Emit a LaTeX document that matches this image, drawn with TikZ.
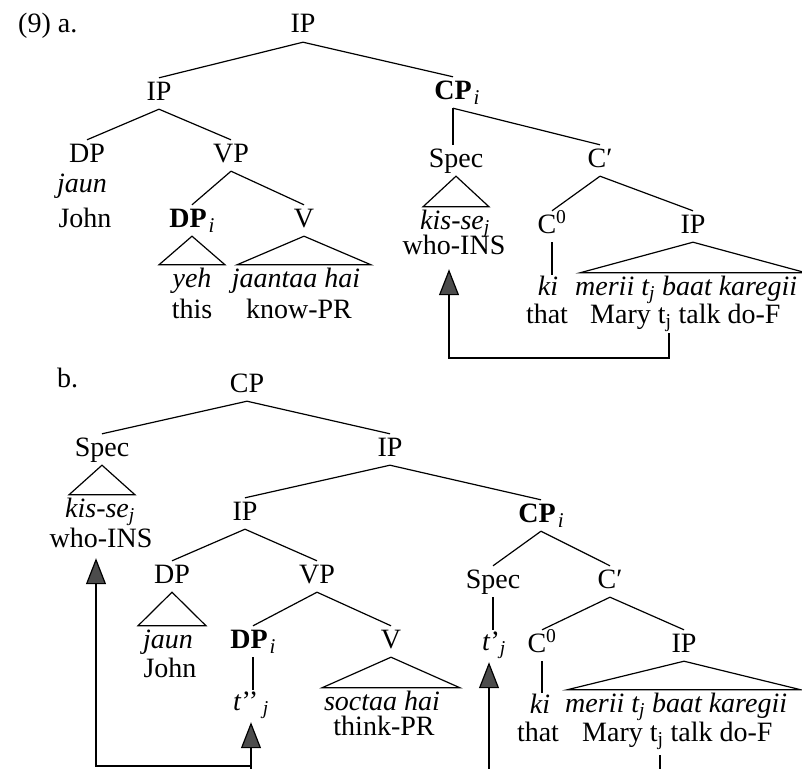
\documentclass[tikz,border=0pt]{standalone}
\usepackage{fontspec}
\setmainfont{Liberation Serif}
\usetikzlibrary{calc,arrows.meta}

% italic index i, set a little smaller and lowered
\newcommand\idxi{\hspace{2pt}\raisebox{-5pt}{\fontsize{21}{21}\selectfont\textit{i}}}
% triangle from a category down over its phrase
\newcommand\subtri[3]{\draw[branch] (#1.south) -- ($(#1.south |- #2.north)+(-#3,-2)$) -- ($(#1.south |- #2.north)+(#3,-2)$) -- cycle;}

\tikzset{
  lbl/.style={inner sep=0pt, anchor=base, text height=22pt, text depth=9pt,
              font=\fontsize{28}{34}\selectfont},
  word/.style={inner sep=0pt, anchor=base, text height=20pt, text depth=2pt,
              font=\fontsize{28}{34}\selectfont},
  wordw/.style={word, anchor=base west},
  branch/.style={line width=1.2pt, line join=miter},
  mv/.style={line width=1.2pt, -{Triangle[width=20pt,length=26pt,fill=black!70]}},
}

\begin{document}
\begin{tikzpicture}[x=1pt,y=-1pt]
\useasboundingbox (0,0) rectangle (802,768);
\fill[white] (0,0) rectangle (802,768);
\clip (0,0) rectangle (802,768);

% ---------------- (9) a. ----------------
\node[wordw] (laba) at (18,33) {(9) a.};
\node[lbl] (IPa)   at (303,33)  {IP};
\node[lbl] (IPa1)  at (159,100) {IP};
\node[lbl] (CPa)   at (453,99)  {\textbf{CP}\rlap{\idxi}};
\node[lbl] (DPa)   at (87,162)  {DP};
\node[lbl] (VPa)   at (231,162) {VP};
\node[word] (jauna) at (82,192)  {\textit{jaun}};
\node[word] (Johna) at (85,227)  {John};
\node[lbl] (DPia)  at (192,227) {\textbf{DP}\idxi};
\node[lbl] (Va)    at (304,227) {V};
\node[word] (yeha)  at (192,287) {\textit{yeh}};
\node[word] (jaana) at (296,287) {\textit{jaantaa hai}};
\node[word] (thisa) at (192,318) {this};
\node[word] (knowa) at (299,318) {know-PR};
\node[lbl] (Speca) at (456,167) {Spec};
\node[lbl] (Cbara) at (600,167) {C′};
\node[word] (kisa)  at (455,229) {\textit{kis-se}\textsubscript{\textit{j}}};
\node[word] (whoa)  at (454,254) {who-INS};
\node[lbl] (C0a)   at (552,233) {C\textsuperscript{0}};
\node[lbl] (IPa2)  at (693,233) {IP};
\node[word] (kia)   at (548,295) {\textit{ki}};
\node[wordw] (meria) at (575,295) {\textit{merii t\textsubscript{j} baat karegii}};
\node[word] (thata) at (547,323) {that};
\node[wordw] (marya) at (590,323) {Mary t\textsubscript{j} talk do-F};

\draw[branch] (IPa.south) -- (IPa1.north);
\draw[branch] (IPa.south) -- (CPa.north);
\draw[branch] (IPa1.south) -- (DPa.north);
\draw[branch] (IPa1.south) -- (VPa.north);
\draw[branch] (VPa.south) -- (DPia.north);
\draw[branch] (VPa.south) -- (Va.north);
\draw[branch] (CPa.south) -- (CPa.south |- Speca.north);
\draw[branch] (CPa.south) -- (Cbara.north);
\draw[branch] (Cbara.south) -- (C0a.north);
\draw[branch] (Cbara.south) -- (IPa2.north);
\draw[branch] (C0a.south) -- (C0a.south |- kia.north);
\subtri{DPia}{yeha}{33}
\subtri{Va}{jaana}{67}
\subtri{Speca}{kisa}{33}
\subtri{IPa2}{meria}{113}

% movement of kis-se from inside the embedded clause
\coordinate (tja) at (669,333);
\draw[mv] (tja) -- ++(0,25) -| ($(whoa.south)+(-5,13)$);

% ---------------- b. ----------------
\node[wordw] (labb) at (57,387) {b.};
\node[lbl] (CPb)    at (247,392) {CP};
\node[lbl] (Specb)  at (102,456) {Spec};
\node[lbl] (IPb)    at (390,456) {IP};
\node[word] (kisb)   at (100,517) {\textit{kis-se}\textsubscript{\textit{j}}};
\node[word] (whob)   at (101,547) {who-INS};
\node[lbl] (IPb2)   at (245,520) {IP};
\node[lbl] (CPib)   at (541,522) {\textbf{CP}\idxi};
\node[lbl] (DPb)    at (172,583) {DP};
\node[lbl] (VPb)    at (317,583) {VP};
\node[word] (jaunb)  at (168,648) {\textit{jaun}};
\node[word] (Johnb)  at (170,677) {John};
\node[lbl] (DPib)   at (253,648) {\textbf{DP}\idxi};
\node[lbl] (Vb)     at (391,648) {V};
\node[wordw] (tpp)   at (233,710) {\textit{t}’’\,\textsubscript{\textit{j}}};
\node[word] (socb)   at (382,710) {\textit{soctaa hai}};
\node[word] (thinkb) at (384,735) {think-PR};
\node[lbl] (Specb2) at (493,588) {Spec};
\node[lbl] (Cbarb)  at (610,588) {C′};
\node[wordw] (tp)    at (482,650) {\textit{t}’\textsubscript{\textit{j}}};
\node[lbl] (C0b)    at (542,652) {C\textsuperscript{0}};
\node[lbl] (IPb3)   at (684,652) {IP};
\node[word] (kib)    at (540,713) {\textit{ki}};
\node[wordw] (merib) at (565,712) {\textit{merii t\textsubscript{j} baat karegii}};
\node[word] (thatb)  at (538,741) {that};
\node[wordw] (maryb) at (582,741) {Mary t\textsubscript{j} talk do-F};

\draw[branch] (CPb.south) -- (Specb.north);
\draw[branch] (CPb.south) -- (IPb.north);
\draw[branch] (IPb.south) -- (IPb2.north);
\draw[branch] (IPb.south) -- (CPib.north);
\draw[branch] (IPb2.south) -- (DPb.north);
\draw[branch] (IPb2.south) -- (VPb.north);
\draw[branch] (VPb.south) -- (DPib.north);
\draw[branch] (VPb.south) -- (Vb.north);
\draw[branch] (DPib.south) -- (DPib.south |- tpp.north);
\draw[branch] (CPib.south) -- (Specb2.north);
\draw[branch] (CPib.south) -- (Cbarb.north);
\draw[branch] (Specb2.south) -- (Specb2.south |- tp.north);
\draw[branch] (Cbarb.south) -- (C0b.north);
\draw[branch] (Cbarb.south) -- (IPb3.north);
\draw[branch] (C0b.south) -- (C0b.south |- kib.north);
\subtri{Specb}{kisb}{33}
\subtri{DPb}{jaunb}{34}
\subtri{Vb}{socb}{69}
\subtri{IPb3}{merib}{117}

% movement chain, running on below the lower edge
\coordinate (jb1) at (251,766);
\coordinate (jb0) at (251,780);
\coordinate (jb2) at (489,780);
\coordinate (tjb) at (660,755);
\draw[mv] (jb1) -| ($(whob.south)+(-5,9)$);
\draw[mv] (jb0) -- ($(jb0 |- tpp.south)+(0,10)$);
\draw[mv] (jb2) -- ($(jb2 |- tp.south)+(0,10)$);
\draw[branch] (tjb) -- ++(0,26);
\end{tikzpicture}
\end{document}
